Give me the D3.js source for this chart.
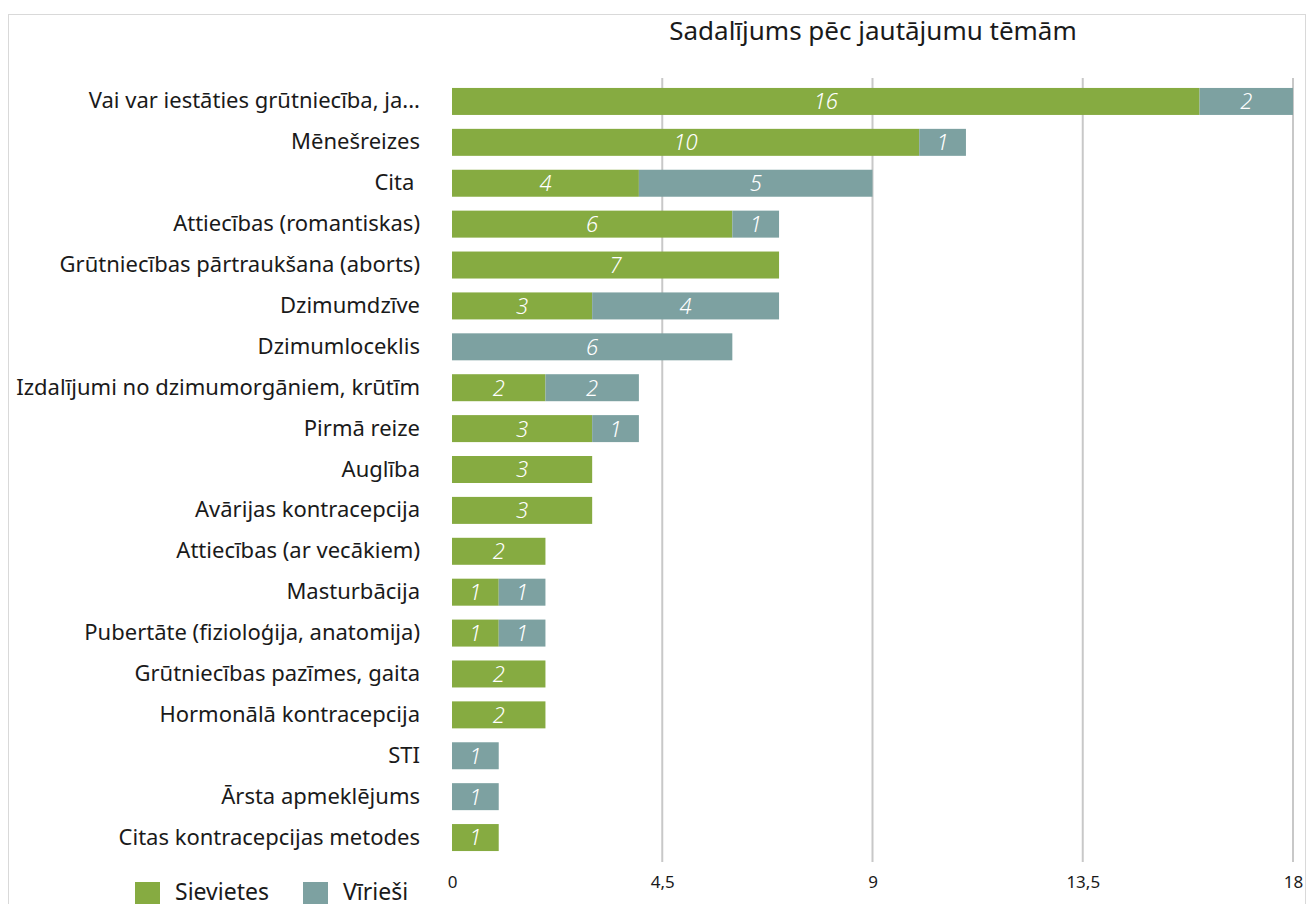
<!DOCTYPE html>
<html>
<head>
<meta charset="utf-8">
<script src="https://cdn.jsdelivr.net/npm/d3@7"></script>
<style>
    body { margin: 0; background: #fff; }
    text { font-family: "Noto Sans", "Open Sans", sans-serif; }
</style>
</head>
<body>
<div id="chart"></div>
<script>
//Datos
const categories = [
    'Vai var iestāties grūtniecība, ja...', 'Mēnešreizes', 'Cita\u00A0', 'Attiecības (romantiskas)',
    'Grūtniecības pārtraukšana (aborts)', 'Dzimumdzīve', 'Dzimumloceklis',
    'Izdalījumi no dzimumorgāniem, krūtīm', 'Pirmā reize', 'Auglība', 'Avārijas kontracepcija',
    'Attiecības (ar vecākiem)', 'Masturbācija', 'Pubertāte (fizioloģija, anatomija)',
    'Grūtniecības pazīmes, gaita', 'Hormonālā kontracepcija', 'STI', 'Ārsta apmeklējums',
    'Citas kontracepcijas metodes'
];
const sievietes = [16, 10, 4, 6, 7, 3, 0, 2, 3, 3, 3, 2, 1, 1, 2, 2, 0, 0, 1];
const viriesi   = [2, 1, 5, 1, 0, 4, 6, 2, 1, 0, 0, 0, 1, 1, 0, 0, 1, 1, 0];
const seriesNames = ['Sievietes', 'Vīrieši'];
const tickValues = [0, 4.5, 9, 13.5, 18];

//Colores
const COLOR_GREEN = '#86AB41',
COLOR_TEAL = '#7DA1A1';
const FONT = '"Noto Sans", "Open Sans", sans-serif';

let width = 1308, height = 904;

let svg = d3.select('#chart')
    .append('svg')
    .attr('width', width)
    .attr('height', height);

//Marco
svg.append('rect')
    .attr('x', 8.5).attr('y', 14.5)
    .attr('width', 1297).attr('height', 900)
    .attr('fill', 'none')
    .attr('stroke', '#d9d9d9')
    .attr('stroke-width', 1);

//Título
svg.append('text')
    .attr('x', 873).attr('y', 40)
    .attr('text-anchor', 'middle')
    .style('font-size', '26px')
    .attr('fill', '#1a1a1a')
    .text('Sadalījums pēc jautājumu tēmām');

let x = d3.scaleLinear()
    .domain([0, 18])
    .range([452, 1293]);

let y = d3.scaleBand()
    .domain(categories)
    .range([81, 858])
    .paddingInner(0.34)
    .paddingOuter(0.17);

//Eje X
let xAxis = function(g) {
    g.call(d3.axisBottom(x).tickValues(tickValues).tickFormat(d => String(d).replace('.', ',')).tickSize(0));
    g.select('.domain').remove();
    g.selectAll('.tick text')
        .attr('dy', 0)
        .attr('y', 0)
        .style('font-size', '17px')
        .style('font-family', FONT)
        .attr('fill', '#1a1a1a');
    g.selectAll('.tick line').remove();
};

//Rejilla
svg.append('g')
    .selectAll('line')
    .data(tickValues.filter(d => d > 0))
    .enter()
    .append('line')
    .attr('x1', d => x(d)).attr('x2', d => x(d))
    .attr('y1', 78).attr('y2', 862)
    .attr('stroke', '#c8c8c8')
    .attr('stroke-width', 2);

svg.append('g')
    .attr('transform', 'translate(0,888)')
    .call(xAxis);

//Eje Y
let yAxis = function(g) {
    g.call(d3.axisLeft(y).tickSize(0).tickPadding(0));
    g.select('.domain').remove();
    g.selectAll('.tick text')
        .style('font-size', '22px')
        .style('font-family', FONT)
        .attr('fill', '#1a1a1a');
};

svg.append('g')
    .attr('transform', 'translate(420,0)')
    .call(yAxis);

//Barras apiladas
let rows = categories.map((c, i) => ({ name: c, Sievietes: sievietes[i], 'Vīrieši': viriesi[i] }));
let stacked = d3.stack().keys(seriesNames)(rows);
let color = d3.scaleOrdinal().domain(seriesNames).range([COLOR_GREEN, COLOR_TEAL]);

let layers = svg.selectAll('.layer')
    .data(stacked)
    .enter()
    .append('g')
    .attr('class', 'layer')
    .attr('fill', d => color(d.key));

layers.selectAll('rect')
    .data(d => d.filter(s => s[1] - s[0] > 0))
    .enter()
    .append('rect')
    .attr('x', d => x(d[0]))
    .attr('y', d => y(d.data.name))
    .attr('width', d => x(d[1]) - x(d[0]))
    .attr('height', y.bandwidth());

layers.selectAll('text')
    .data(d => d.filter(s => s[1] - s[0] > 0))
    .enter()
    .append('text')
    .attr('x', d => x((d[0] + d[1]) / 2))
    .attr('y', d => y(d.data.name) + y.bandwidth() / 2)
    .attr('dy', '0.36em')
    .attr('text-anchor', 'middle')
    .attr('fill', '#fff')
    .style('font-size', '22px')
    .style('font-style', 'italic')
    .style('font-weight', 300)
    .text(d => d[1] - d[0]);

//Leyenda
let legend = svg.append('g')
    .selectAll('g')
    .data(seriesNames)
    .enter()
    .append('g')
    .attr('transform', (d, i) => 'translate(' + (135 + i * 168) + ',882)');

legend.append('rect')
    .attr('width', 25).attr('height', 25)
    .attr('fill', d => color(d));

legend.append('text')
    .attr('x', 40).attr('y', 18)
    .style('font-size', '23px')
    .attr('fill', '#1a1a1a')
    .text(d => d);
</script>
</body>
</html>
